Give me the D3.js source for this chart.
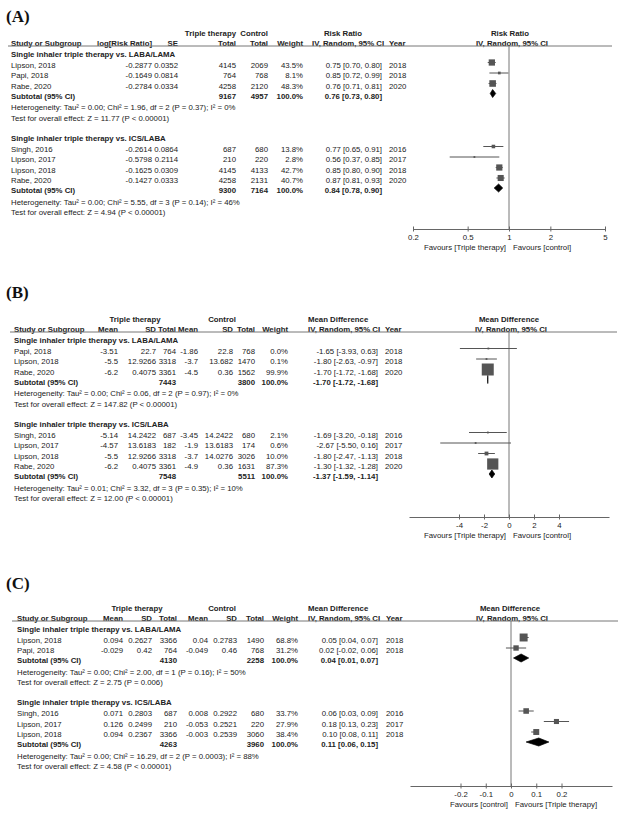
<!DOCTYPE html>
<html>
<head>
<meta charset="utf-8">
<script src="https://cdnjs.cloudflare.com/ajax/libs/d3/7.8.5/d3.min.js"></script>
<style>
body { margin: 0; background: #fff; }
svg text { font-family: "Liberation Sans", Arial, sans-serif; font-size: 7.8px; fill: #222; }
svg text.plabel { font-family: "Liberation Serif", "Times New Roman", serif; font-size: 17px; font-weight: bold; fill: #111; }
</style>
</head>
<body>
<svg width="624" height="815"></svg>
<script>
// ---- data ----
var groupTitles = ["Single inhaler triple therapy vs. LABA/LAMA", "Single inhaler triple therapy vs. ICS/LABA"];

// (A) risk ratio
var rrLabaLama = [
  {study: "Lipson, 2018", logrr: -0.2877, se: 0.0352, tn: 4145, cn: 2069, w: 43.5, est: 0.75, lo: 0.70, hi: 0.80, year: 2018},
  {study: "Papi, 2018",   logrr: -0.1649, se: 0.0814, tn: 764,  cn: 768,  w: 8.1,  est: 0.85, lo: 0.72, hi: 0.99, year: 2018},
  {study: "Rabe, 2020",   logrr: -0.2784, se: 0.0334, tn: 4258, cn: 2120, w: 48.3, est: 0.76, lo: 0.71, hi: 0.81, year: 2020}
];
var rrIcsLaba = [
  {study: "Singh, 2016",  logrr: -0.2614, se: 0.0864, tn: 687,  cn: 680,  w: 13.8, est: 0.77, lo: 0.65, hi: 0.91, year: 2016},
  {study: "Lipson, 2017", logrr: -0.5798, se: 0.2114, tn: 210,  cn: 220,  w: 2.8,  est: 0.56, lo: 0.37, hi: 0.85, year: 2017},
  {study: "Lipson, 2018", logrr: -0.1625, se: 0.0309, tn: 4145, cn: 4133, w: 42.7, est: 0.85, lo: 0.80, hi: 0.90, year: 2018},
  {study: "Rabe, 2020",   logrr: -0.1427, se: 0.0333, tn: 4258, cn: 2131, w: 40.7, est: 0.87, lo: 0.81, hi: 0.93, year: 2020}
];
var rrSubtotals = [
  {tn: 9167, cn: 4957, est: 0.76, lo: 0.73, hi: 0.80},
  {tn: 9300, cn: 7164, est: 0.84, lo: 0.78, hi: 0.90}
];
var rrStats = [
  ["Heterogeneity: Tau\u00b2 = 0.00; Chi\u00b2 = 1.96, df = 2 (P = 0.37); I\u00b2 = 0%", "Test for overall effect: Z = 11.77 (P < 0.00001)"],
  ["Heterogeneity: Tau\u00b2 = 0.00; Chi\u00b2 = 5.55, df = 3 (P = 0.14); I\u00b2 = 46%", "Test for overall effect: Z = 4.94 (P < 0.00001)"]
];
var rrTicks = [0.2, 0.5, 1, 2, 5];
var rrTickLabels = ["0.2", "0.5", "1", "2", "5"];

// (B) mean difference
var mdBLabaLama = [
  {study: "Papi, 2018",   tm: -3.51, tsd: 22.7,    tn: 764,  cm: -1.86, csd: 22.8,   cn: 768,  w: 0.0,  est: -1.65, lo: -3.93, hi: 0.63,  year: 2018},
  {study: "Lipson, 2018", tm: -5.5,  tsd: 12.9266, tn: 3318, cm: -3.7,  csd: 13.682, cn: 1470, w: 0.1,  est: -1.80, lo: -2.63, hi: -0.97, year: 2018},
  {study: "Rabe, 2020",   tm: -6.2,  tsd: 0.4075,  tn: 3361, cm: -4.5,  csd: 0.36,   cn: 1562, w: 99.9, est: -1.70, lo: -1.72, hi: -1.68, year: 2020}
];
var mdBIcsLaba = [
  {study: "Singh, 2016",  tm: -5.14, tsd: 14.2422, tn: 687,  cm: -3.45, csd: 14.2422, cn: 680,  w: 2.1,  est: -1.69, lo: -3.20, hi: -0.18, year: 2016},
  {study: "Lipson, 2017", tm: -4.57, tsd: 13.6183, tn: 182,  cm: -1.9,  csd: 13.6183, cn: 174,  w: 0.6,  est: -2.67, lo: -5.50, hi: 0.16,  year: 2017},
  {study: "Lipson, 2018", tm: -5.5,  tsd: 12.9266, tn: 3318, cm: -3.7,  csd: 14.0276, cn: 3026, w: 10.0, est: -1.80, lo: -2.47, hi: -1.13, year: 2018},
  {study: "Rabe, 2020",   tm: -6.2,  tsd: 0.4075,  tn: 3361, cm: -4.9,  csd: 0.36,    cn: 1631, w: 87.3, est: -1.30, lo: -1.32, hi: -1.28, year: 2020}
];
var mdBSubtotals = [
  {tn: 7443, cn: 3800, est: -1.70, lo: -1.72, hi: -1.68},
  {tn: 7548, cn: 5511, est: -1.37, lo: -1.59, hi: -1.14}
];
var mdBStats = [
  ["Heterogeneity: Tau\u00b2 = 0.00; Chi\u00b2 = 0.06, df = 2 (P = 0.97); I\u00b2 = 0%", "Test for overall effect: Z = 147.82 (P < 0.00001)"],
  ["Heterogeneity: Tau\u00b2 = 0.01; Chi\u00b2 = 3.32, df = 3 (P = 0.35); I\u00b2 = 10%", "Test for overall effect: Z = 12.00 (P < 0.00001)"]
];
var mdBTicks = [-4, -2, 0, 2, 4];
var mdBTickLabels = ["-4", "-2", "0", "2", "4"];

// (C) mean difference
var mdCLabaLama = [
  {study: "Lipson, 2018", tm: 0.094,  tsd: 0.2627, tn: 3366, cm: 0.04,   csd: 0.2783, cn: 1490, w: 68.8, est: 0.05, lo: 0.04,  hi: 0.07, year: 2018},
  {study: "Papi, 2018",   tm: -0.029, tsd: 0.42,   tn: 764,  cm: -0.049, csd: 0.46,   cn: 768,  w: 31.2, est: 0.02, lo: -0.02, hi: 0.06, year: 2018}
];
var mdCIcsLaba = [
  {study: "Singh, 2016",  tm: 0.071, tsd: 0.2803, tn: 687,  cm: 0.008,  csd: 0.2922, cn: 680,  w: 33.7, est: 0.06, lo: 0.03, hi: 0.09, year: 2016},
  {study: "Lipson, 2017", tm: 0.126, tsd: 0.2499, tn: 210,  cm: -0.053, csd: 0.2521, cn: 220,  w: 27.9, est: 0.18, lo: 0.13, hi: 0.23, year: 2017},
  {study: "Lipson, 2018", tm: 0.094, tsd: 0.2367, tn: 3366, cm: -0.003, csd: 0.2539, cn: 3060, w: 38.4, est: 0.10, lo: 0.08, hi: 0.11, year: 2018}
];
var mdCSubtotals = [
  {tn: 4130, cn: 2258, est: 0.04, lo: 0.01, hi: 0.07},
  {tn: 4263, cn: 3960, est: 0.11, lo: 0.06, hi: 0.15}
];
var mdCStats = [
  ["Heterogeneity: Tau\u00b2 = 0.00; Chi\u00b2 = 2.00, df = 1 (P = 0.16); I\u00b2 = 50%", "Test for overall effect: Z = 2.75 (P = 0.006)"],
  ["Heterogeneity: Tau\u00b2 = 0.00; Chi\u00b2 = 16.29, df = 2 (P = 0.0003); I\u00b2 = 88%", "Test for overall effect: Z = 4.58 (P < 0.00001)"]
];
var mdCTicks = [-0.2, -0.1, 0, 0.1, 0.2];
var mdCTickLabels = ["-0.2", "-0.1", "0", "0.1", "0.2"];

// ---- drawing ----
var svg = d3.select("svg");

function txt(g, x, y, s, anchor, bold) {
  return g.append("text")
    .attr("x", x).attr("y", y).attr("dy", "0.35em")
    .attr("text-anchor", anchor || "start")
    .attr("font-weight", bold ? "bold" : null)
    .text(s);
}

function ciText(d) { return d.est.toFixed(2) + " [" + d.lo.toFixed(2) + ", " + d.hi.toFixed(2) + "]"; }

function drawPanel(p) {
  var g = svg.append("g");
  var L = p.lineY;
  g.append("text").attr("class", "plabel").attr("x", 6).attr("y", p.labelY).text(p.label);

  p.head1.forEach(function(h) { txt(g, h.x, L - 13, h.t, h.a, true); });
  p.head2.forEach(function(h) { txt(g, h.x, L - 3, h.t, h.a, true); });
  g.append("line").attr("x1", p.lineX[0]).attr("x2", p.lineX[1])
    .attr("y1", L).attr("y2", L).attr("stroke", "#777").attr("stroke-width", 1);

  var x = p.scale;
  var size = d3.scaleSqrt().domain([0, 100]).range([0, p.sqMax]);
  var zx = x(p.ref);

  // reference line
  g.append("line").attr("x1", zx).attr("x2", zx).attr("y1", L).attr("y2", p.axisY)
    .attr("stroke", "#777").attr("stroke-width", 1);

  var y = L + 8;
  p.groups.forEach(function(grp) {
    txt(g, p.studyX, y, grp.title, "start", true);
    y += 11;
    grp.studies.forEach(function(d, i) {
      if (i > 0) y += 10.5;
      txt(g, p.studyX, y, d.study);
      p.cols.forEach(function(c) { txt(g, c.x, y, String(d[c.k]), "end"); });
      txt(g, p.weightX, y, d.w.toFixed(1) + "%", "end");
      txt(g, p.effX, y, ciText(d), "end");
      txt(g, p.yearX, y, String(d.year));
      var my = y - 2.5;
      var x0 = Math.max(x(d.lo), x.range()[0]), x1 = Math.min(x(d.hi), x.range()[1]);
      g.append("line").attr("x1", x0).attr("x2", x1).attr("y1", my).attr("y2", my)
        .attr("stroke", "#555").attr("stroke-width", 1);
      var s = Math.max(size(d.w), 1.8);
      g.append("rect").attr("x", x(d.est) - s / 2).attr("y", my - s / 2)
        .attr("width", s).attr("height", s).attr("fill", "#555");
    });
    y += 10;
    var sb = grp.sub;
    txt(g, p.studyX, y, "Subtotal (95% CI)", "start", true);
    txt(g, p.totX[0], y, String(sb.tn), "end", true);
    txt(g, p.totX[1], y, String(sb.cn), "end", true);
    txt(g, p.weightX, y, "100.0%", "end", true);
    txt(g, p.effX, y, ciText(sb), "end", true);
    var dy = y - 2.5;
    g.append("path")
      .attr("d", "M" + x(sb.lo) + "," + dy + "L" + x(sb.est) + "," + (dy - 4) +
                 "L" + x(sb.hi) + "," + dy + "L" + x(sb.est) + "," + (dy + 4) + "Z")
      .attr("fill", "#000").attr("stroke", "#000").attr("stroke-width", 0.7);
    y += 11.5;
    txt(g, p.studyX, y, grp.stats[0]);
    y += 10.5;
    txt(g, p.studyX, y, grp.stats[1]);
    y += 20;
  });

  // axis
  var axis = d3.axisBottom(x).tickValues(p.ticks).tickSizeOuter(0).tickSizeInner(2.5)
    .tickFormat(function(d, i) { return p.tickLabels[i]; });
  var ag = g.append("g").attr("transform", "translate(0," + p.axisY + ")").call(axis);
  ag.select(".domain").attr("stroke", "#666").attr("stroke-width", 1.2);
  ag.selectAll(".tick line").attr("y1", -2.5).attr("y2", 2.5).attr("stroke", "#666");
  ag.selectAll(".tick text").attr("y", 5).attr("dy", "0.71em")
    .style("font-family", "'Liberation Sans', Arial, sans-serif").style("font-size", "7.8px").attr("fill", "#222");
  txt(g, zx - 3, p.axisY + 18, p.favours[0], "end");
  txt(g, zx + 4, p.axisY + 18, p.favours[1], "start");
}

drawPanel({
  label: "(A)", labelY: 22, lineY: 46, lineX: [8, 612], axisY: 229, studyX: 11,
  scale: d3.scaleLog().domain([0.2, 5]).range([413, 605]), ref: 1,
  ticks: rrTicks, tickLabels: rrTickLabels,
  favours: ["Favours [Triple therapy]", "Favours [control]"],
  cols: [{x: 152, k: "logrr"}, {x: 178, k: "se"}, {x: 236, k: "tn"}, {x: 268, k: "cn"}],
  totX: [236, 268], weightX: 303, effX: 382, yearX: 389, sqMax: 9.5,
  head1: [{x: 236, t: "Triple therapy", a: "end"}, {x: 268, t: "Control", a: "end"},
          {x: 343, t: "Risk Ratio", a: "middle"}, {x: 510, t: "Risk Ratio", a: "middle"}],
  head2: [{x: 11, t: "Study or Subgroup"}, {x: 152, t: "log[Risk Ratio]", a: "end"}, {x: 178, t: "SE", a: "end"},
          {x: 236, t: "Total", a: "end"}, {x: 268, t: "Total", a: "end"}, {x: 303, t: "Weight", a: "end"},
          {x: 312, t: "IV, Random, 95% CI"}, {x: 389, t: "Year"}, {x: 512, t: "IV, Random, 95% CI", a: "middle"}],
  groups: [
    {title: groupTitles[0], studies: rrLabaLama, sub: rrSubtotals[0], stats: rrStats[0]},
    {title: groupTitles[1], studies: rrIcsLaba, sub: rrSubtotals[1], stats: rrStats[1]}
  ]
});

drawPanel({
  label: "(B)", labelY: 298, lineY: 332, lineX: [10, 617], axisY: 517, studyX: 14,
  scale: d3.scaleLinear().domain([-8, 8]).range([409, 609]), ref: 0,
  ticks: mdBTicks, tickLabels: mdBTickLabels,
  favours: ["Favours [Triple therapy]", "Favours [control]"],
  cols: [{x: 118, k: "tm"}, {x: 156, k: "tsd"}, {x: 176, k: "tn"}, {x: 198, k: "cm"}, {x: 233, k: "csd"}, {x: 255, k: "cn"}],
  totX: [176, 255], weightX: 288, effX: 378, yearX: 385, sqMax: 12,
  head1: [{x: 135, t: "Triple therapy", a: "middle"}, {x: 222, t: "Control", a: "middle"},
          {x: 308, t: "Mean Difference"}, {x: 509, t: "Mean Difference", a: "middle"}],
  head2: [{x: 14, t: "Study or Subgroup"}, {x: 118, t: "Mean", a: "end"}, {x: 156, t: "SD", a: "end"},
          {x: 176, t: "Total", a: "end"}, {x: 198, t: "Mean", a: "end"}, {x: 233, t: "SD", a: "end"},
          {x: 255, t: "Total", a: "end"}, {x: 288, t: "Weight", a: "end"},
          {x: 308, t: "IV, Random, 95% CI"}, {x: 385, t: "Year"}, {x: 511, t: "IV, Random, 95% CI", a: "middle"}],
  groups: [
    {title: groupTitles[0], studies: mdBLabaLama, sub: mdBSubtotals[0], stats: mdBStats[0]},
    {title: groupTitles[1], studies: mdBIcsLaba, sub: mdBSubtotals[1], stats: mdBStats[1]}
  ]
});

drawPanel({
  label: "(C)", labelY: 589, lineY: 621, lineX: [12, 618], axisY: 786, studyX: 17,
  scale: d3.scaleLinear().domain([-0.4, 0.4]).range([410, 612]), ref: 0,
  ticks: mdCTicks, tickLabels: mdCTickLabels,
  favours: ["Favours [control]", "Favours [Triple therapy]"],
  cols: [{x: 123, k: "tm"}, {x: 152, k: "tsd"}, {x: 177, k: "tn"}, {x: 208, k: "cm"}, {x: 237, k: "csd"}, {x: 264, k: "cn"}],
  totX: [177, 264], weightX: 298, effX: 378, yearX: 386, sqMax: 9.6,
  head1: [{x: 137, t: "Triple therapy", a: "middle"}, {x: 222, t: "Control", a: "middle"},
          {x: 308, t: "Mean Difference"}, {x: 510, t: "Mean Difference", a: "middle"}],
  head2: [{x: 17, t: "Study or Subgroup"}, {x: 123, t: "Mean", a: "end"}, {x: 152, t: "SD", a: "end"},
          {x: 177, t: "Total", a: "end"}, {x: 208, t: "Mean", a: "end"}, {x: 237, t: "SD", a: "end"},
          {x: 264, t: "Total", a: "end"}, {x: 298, t: "Weight", a: "end"},
          {x: 308, t: "IV, Random, 95% CI"}, {x: 386, t: "Year"}, {x: 512, t: "IV, Random, 95% CI", a: "middle"}],
  groups: [
    {title: groupTitles[0], studies: mdCLabaLama, sub: mdCSubtotals[0], stats: mdCStats[0]},
    {title: groupTitles[1], studies: mdCIcsLaba, sub: mdCSubtotals[1], stats: mdCStats[1]}
  ]
});
</script>
</body>
</html>
